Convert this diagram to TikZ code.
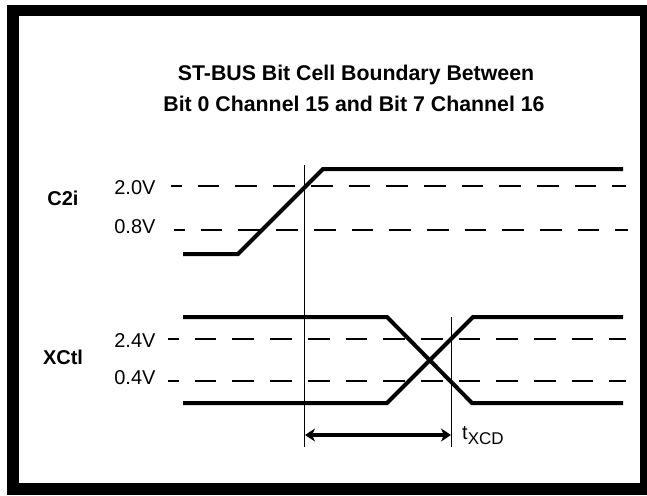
\documentclass[tikz,border=0pt]{standalone}
\usepackage{fontspec}
\setmainfont{Liberation Sans}
\usetikzlibrary{arrows.meta}

\tikzset{
  wave/.style={line width=4pt},
  level/.style={line width=1.2pt, dash pattern=on 21.7pt off 16pt, dash phase=11pt},
  marker/.style={line width=0.9pt},
  span/.style={line width=3.2pt, {Stealth[length=10pt,width=13pt,inset=3pt]}-{Stealth[length=10pt,width=13pt,inset=3pt]}},
  volt/.style={anchor=base east, font=\fontsize{20}{24}\selectfont},
  signame/.style={anchor=base, font=\bfseries\fontsize{20}{24}\selectfont},
  heading/.style={anchor=base, font=\bfseries\fontsize{21.3}{25}\selectfont},
}

\begin{document}
\begin{tikzpicture}[x=1pt,y=-1pt]
\useasboundingbox (0,0) rectangle (647,495);
% frame
\fill[black] (7,5) rectangle (647,495);
\fill[white] (19,16) rectangle (640,483);

% title
\node[heading] (title1) at (356,80) {ST-BUS Bit Cell Boundary Between};
\node[heading] (title2) at (354,111) {Bit 0 Channel 15 and Bit 7 Channel 16};

% signal names
\node[signame] (c2i) at (63,205) {C2i};
\node[signame] (xctl) at (63,364) {XCtl};

% thresholds
\node[volt] (v20) at (159,194) {2.0V};
\node[volt] (v08) at (159,233) {0.8V};
\node[volt] (v24) at (159,347) {2.4V};
\node[volt] (v04) at (159,384) {0.4V};
\draw[level] (171,186) -- (626,186);
\draw[level] (174,230) -- (628,230);
\draw[level] (168,339) -- (626,339);
\draw[level] (168,381) -- (626,381);

% waveforms
\draw[wave] (183,254) -- (238,254) -- (323,169) -- (623,169);
\draw[wave] (183,317) -- (387,317) -- (472,403) -- (623,403);
\draw[wave] (183,403) -- (387,403) -- (473,317) -- (623,317);

% timing markers
\coordinate (ref) at (304,165);
\coordinate (refend) at (304,447);
\coordinate (out) at (451,317);
\coordinate (outend) at (451,447);
\draw[marker] (ref) -- (refend);
\draw[marker] (out) -- (outend);
\draw[span] ([xshift=1pt,yshift=12pt]refend) -- ([yshift=12pt]outend);
\node[anchor=base west, font=\fontsize{20}{24}\selectfont, inner sep=0pt] (txcd) at (462,439)
  {t\raisebox{-5pt}{\fontsize{17}{20}\selectfont XCD}};
\end{tikzpicture}
\end{document}
